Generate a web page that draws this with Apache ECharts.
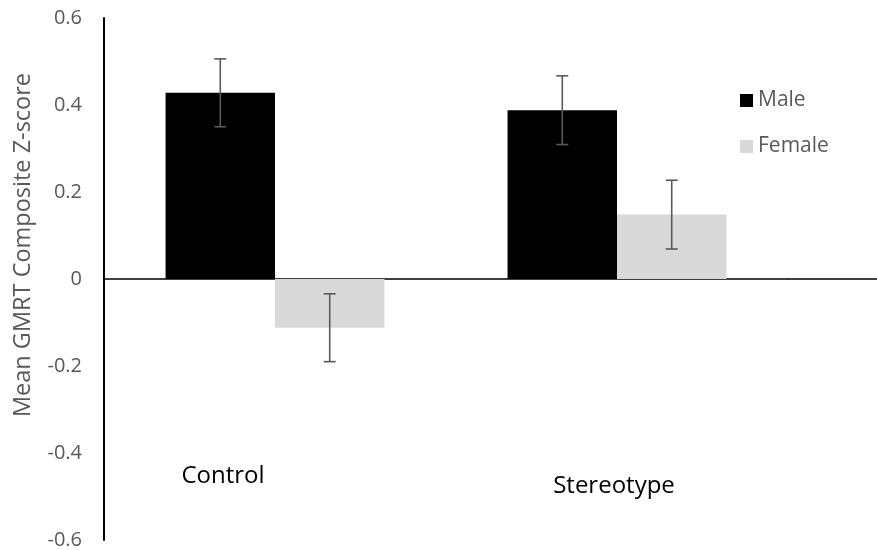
<!DOCTYPE html>
<html>
<head>
<meta charset="utf-8">
<script src="https://cdn.jsdelivr.net/npm/echarts@6/dist/echarts.min.js"></script>
<style>
  html, body { margin: 0; padding: 0; background: #fff; }
  #main { width: 877px; height: 550px; }
</style>
</head>
<body>
<div id="main"></div>
<script>
const categories = ['Control', 'Stereotype']
const maleMeans = [0.428, 0.388]
const femaleMeans = [-0.112, 0.148]
const maleErr = [0.078, 0.079]
const femaleErr = [0.078, 0.079]
const yTicks = { min: -0.6, max: 0.6, interval: 0.2 }

const FONT = '"Open Sans"'

const chart = echarts.init(document.getElementById('main'), null, { renderer: 'canvas' })

// error bars drawn as a custom series on the same category axis
function errorSeries(name, means, errs, idx) {
  return {
    type: 'custom',
    name: name + ' err',
    z: 10,
    data: means.map((m, i) => [i, m - errs[i], m + errs[i]]),
    renderItem: (params, api) => {
      const lo = api.coord([api.value(0), api.value(1)])
      const hi = api.coord([api.value(0), api.value(2)])
      const bw = api.size([1, 0])[0] * 0.32
      const x = lo[0] + (idx === 0 ? -bw / 2 : bw / 2)
      const cap = 6
      const style = { stroke: '#595959', lineWidth: 1.6 }
      return {
        type: 'group',
        children: [
          { type: 'line', shape: { x1: x, y1: lo[1], x2: x, y2: hi[1] }, style },
          { type: 'line', shape: { x1: x - cap, y1: lo[1], x2: x + cap, y2: lo[1] }, style },
          { type: 'line', shape: { x1: x - cap, y1: hi[1], x2: x + cap, y2: hi[1] }, style }
        ]
      }
    }
  }
}

const option = {
  animation: false,
  grid: { left: 104, right: 89, top: 18, bottom: 9, containLabel: false },
  legend: {
    data: ['Male', 'Female'],
    orient: 'vertical',
    left: 735,
    top: 85,
    icon: 'rect',
    itemWidth: 13,
    itemHeight: 13,
    itemGap: 25,
    textStyle: { fontFamily: FONT, fontSize: 21, lineHeight: 21, color: '#595959' }
  },
  xAxis: {
    type: 'category',
    data: categories,
    axisLine: { onZero: true, lineStyle: { color: '#000', width: 1.5 } },
    axisTick: { show: false },
    axisLabel: { show: false }
  },
  yAxis: {
    type: 'value',
    min: yTicks.min,
    max: yTicks.max,
    interval: yTicks.interval,
    splitLine: { show: false },
    axisTick: { show: false },
    axisLine: { show: true, lineStyle: { color: '#000', width: 2 } },
    axisLabel: {
      fontFamily: FONT,
      fontSize: 20,
      color: '#595959',
      margin: 22,
      formatter: v => (Math.abs(v) < 1e-9 ? '0' : String(Math.round(v * 10) / 10))
    }
  },
  series: [
    {
      name: 'Male',
      type: 'bar',
      data: maleMeans,
      barWidth: '32%',
      barGap: '0%',
      itemStyle: { color: '#000' }
    },
    {
      name: 'Female',
      type: 'bar',
      data: femaleMeans,
      barWidth: '32%',
      itemStyle: { color: '#d9d9d9' }
    },
    errorSeries('Male', maleMeans, maleErr, 0),
    errorSeries('Female', femaleMeans, femaleErr, 1)
  ],
  graphic: [
    {
      type: 'text',
      x: 23, y: 245,
      rotation: Math.PI / 2,
      style: {
        text: 'Mean GMRT Composite Z-score',
        font: '23.5px ' + FONT,
        fill: '#595959',
        align: 'center',
        verticalAlign: 'middle'
      }
    },
    {
      type: 'text', x: 223, y: 476,
      style: { text: categories[0], font: '24px ' + FONT, fill: '#000', align: 'center', verticalAlign: 'middle' }
    },
    {
      type: 'text', x: 614, y: 486,
      style: { text: categories[1], font: '24px ' + FONT, fill: '#000', align: 'center', verticalAlign: 'middle' }
    }
  ]
}

chart.setOption(option)

// zero line keeps running past the plot area to the right edge
const z0 = chart.convertToPixel({ xAxisIndex: 0, yAxisIndex: 0 }, [1, 0])
const gridRight = z0[0] + 171
chart.setOption({
  graphic: option.graphic.concat([{
    type: 'line',
    z: 0,
    shape: { x1: gridRight, y1: z0[1], x2: 877, y2: z0[1] },
    style: { stroke: '#000', lineWidth: 1.5 }
  }])
})
</script>
</body>
</html>
